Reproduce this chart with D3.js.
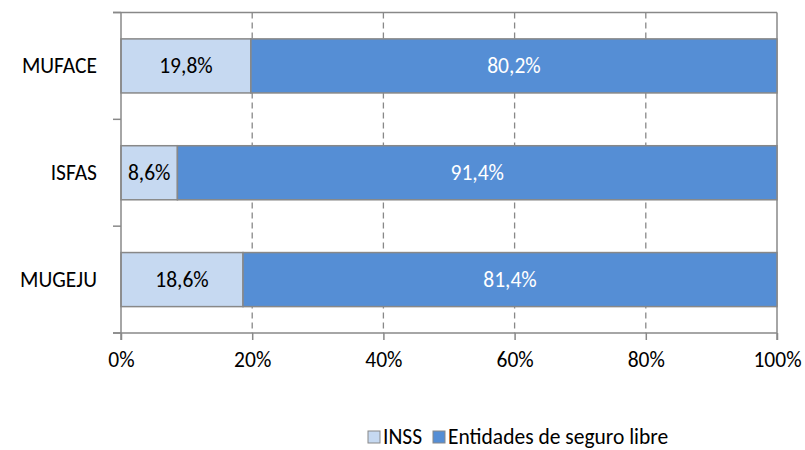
<!DOCTYPE html>
<html><head><meta charset="utf-8">
<script src="https://cdn.jsdelivr.net/npm/d3@7"></script>
<style>body{margin:0;background:#fff}svg{display:block}text{font-family:Carlito,Lato,"Open Sans",sans-serif}</style>
</head><body><svg id="c" width="805" height="450"></svg>
<script>
const categories = ["MUFACE", "ISFAS", "MUGEJU"];
const inss = [19.8, 8.6, 18.6];
const libre = [80.2, 91.4, 81.4];
const seriesNames = ["INSS", "Entidades de seguro libre"];
const colors = ["#c6d9f1", "#558ed5"];
const xTicks = [0, 20, 40, 60, 80, 100];

const FS = 21.5;
const svg = d3.select("#c");
const L = 121, R = 777, T = 12.5, B = 333;
const x = d3.scaleLinear().domain([0, 100]).range([L, R]);
const y = d3.scaleBand().domain(categories).range([T, B]).paddingInner(0.494).paddingOuter(0.247);
const grid = "#888888";

// gridlines
svg.append("g").selectAll("line").data(xTicks.filter(d => d > 0 && d < 100)).join("line")
  .attr("x1", d => x(d)).attr("x2", d => x(d)).attr("y1", T).attr("y2", B)
  .attr("stroke", grid).attr("stroke-width", 1.3).attr("stroke-dasharray", "6,4");
// top and right border
svg.append("line").attr("x1", L - 8).attr("x2", R).attr("y1", T).attr("y2", T).attr("stroke", grid).attr("stroke-width", 1.5);
svg.append("line").attr("x1", R).attr("x2", R).attr("y1", T).attr("y2", B + 7).attr("stroke", grid).attr("stroke-width", 1.5);

// bars
const stacked = categories.map((c, i) => [
  {cat: c, s: 0, x0: 0, x1: inss[i], v: inss[i]},
  {cat: c, s: 1, x0: inss[i], x1: inss[i] + libre[i], v: libre[i]}
]).flat();
svg.append("g").selectAll("rect").data(stacked).join("rect")
  .attr("x", d => x(d.x0)).attr("width", d => x(d.x1) - x(d.x0))
  .attr("y", d => y(d.cat)).attr("height", y.bandwidth())
  .attr("fill", d => colors[d.s]).attr("stroke", grid).attr("stroke-width", 1.5);
const fmt = v => v.toFixed(1).replace(".", ",") + "%";
svg.append("g").selectAll("text").data(stacked).join("text")
  .attr("x", d => (x(d.x0) + x(d.x1)) / 2).attr("y", d => y(d.cat) + y.bandwidth() / 2)
  .attr("dy", "0.35em").attr("text-anchor", "middle").attr("font-size", FS)
  .attr("fill", d => d.s ? "#ffffff" : "#000000").text(d => fmt(d.v));

// y axis
const yAxisG = svg.append("g");
yAxisG.append("line").attr("x1", L).attr("x2", L).attr("y1", T).attr("y2", B + 7).attr("stroke", grid).attr("stroke-width", 1.5);
const yb = [T].concat(categories.map(c => y(c) + y.bandwidth() / 2 + y.step() / 2));
yAxisG.selectAll("line.t").data(yb).join("line").attr("class", "t")
  .attr("x1", L - 8).attr("x2", L).attr("y1", d => d).attr("y2", d => d).attr("stroke", grid).attr("stroke-width", 1.5);
yAxisG.selectAll("text").data(categories).join("text")
  .attr("x", 97).attr("y", d => y(d) + y.bandwidth() / 2).attr("dy", "0.35em")
  .attr("text-anchor", "end").attr("font-size", FS).attr("fill", "#000").text(d => d);

// x axis
const xa = svg.append("g").attr("transform", `translate(0,${B})`)
  .call(d3.axisBottom(x).tickValues(xTicks).tickSize(7).tickPadding(12).tickFormat(d => d + "%"));
xa.select(".domain").attr("d", `M${L - 8},0H${R}`).attr("stroke", grid).attr("stroke-width", 1.5);
xa.selectAll(".tick line").attr("stroke", grid).attr("stroke-width", 1.5);
xa.selectAll(".tick text").attr("font-size", FS).attr("fill", "#000").attr("font-family", "Carlito,Lato,'Open Sans',sans-serif");

// legend
const leg = svg.append("g");
const items = [{x: 368, n: seriesNames[0], c: colors[0]}, {x: 433, n: seriesNames[1], c: colors[1]}];
items.forEach(it => {
  leg.append("rect").attr("x", it.x).attr("y", 431).attr("width", 12).attr("height", 12)
    .attr("fill", it.c).attr("stroke", grid).attr("stroke-width", 1);
  leg.append("text").attr("x", it.x + 15).attr("y", 436).attr("dy", "0.35em")
    .attr("font-size", FS).attr("fill", "#000").text(it.n);
});
</script></body></html>
